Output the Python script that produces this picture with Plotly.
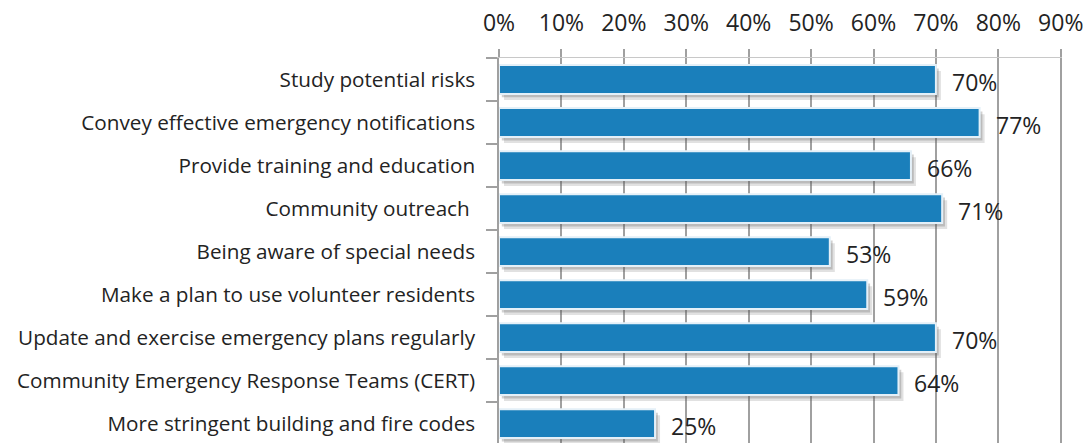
import plotly.graph_objects as go

categories = [
    "Study potential risks",
    "Convey effective emergency notifications",
    "Provide training and education",
    "Community outreach ",
    "Being aware of special needs",
    "Make a plan to use volunteer residents",
    "Update and exercise emergency plans regularly",
    "Community Emergency Response Teams (CERT)",
    "More stringent building and fire codes",
]
values = [70, 77, 66, 71, 53, 59, 70, 64, 25]
x_ticks = [0, 10, 20, 30, 40, 50, 60, 70, 80, 90]

bar_color = "rgb(26,127,187)"
grid_color = "rgb(160,160,160)"
text_color = "rgb(35,35,35)"
font_family = "'Open Sans', sans-serif"
bar_width = 0.67

fig = go.Figure()

# soft drop shadow under each bar (two layers for a blurred edge)
for base, grow, alpha in [(0.8, 0.14, 0.18), (0.45, 0.08, 0.28)]:
    fig.add_trace(go.Bar(
        y=categories, x=values, orientation="h",
        base=base, width=bar_width, offset=-bar_width / 2 + grow,
        marker=dict(color=f"rgba(90,90,90,{alpha})", line=dict(width=0)),
        hoverinfo="skip", showlegend=False,
    ))

# main bars
fig.add_trace(go.Bar(
    y=categories, x=values, orientation="h",
    width=bar_width,
    marker=dict(color=bar_color, line=dict(color="rgb(228,240,248)", width=2)),
    showlegend=False,
))

# value labels
for cat, v in zip(categories, values):
    fig.add_annotation(
        x=v, y=cat, text=f"{v}%", showarrow=False,
        xanchor="left", yanchor="middle", xshift=14, yshift=-2,
        font=dict(size=23, color=text_color, family=font_family),
    )

fig.update_layout(
    width=1090, height=443,
    margin=dict(l=499, r=28, t=58, b=0),
    paper_bgcolor="white", plot_bgcolor="white",
    barmode="overlay",
    font=dict(family=font_family, color=text_color),
    xaxis=dict(
        side="top", range=[0, 90.2], tickvals=x_ticks,
        ticktext=[f"{t}%" for t in x_ticks],
        showgrid=True, gridcolor=grid_color, gridwidth=1.5,
        ticks="outside", ticklen=8, tickcolor=grid_color, tickwidth=1.5,
        tickfont=dict(size=23, color=text_color),
        ticklabelstandoff=9,
        showline=True, linecolor="rgb(200,200,200)", linewidth=1.2,
        zeroline=False, fixedrange=True,
    ),
    yaxis=dict(
        autorange=False, range=[8.45, -0.5],
        showgrid=False, showline=True, linecolor=grid_color, linewidth=1.5,
        ticks="outside", tickson="boundaries", ticklen=11,
        tickcolor=grid_color, tickwidth=1.5,
        tickfont=dict(size=20.7, color=text_color),
        ticklabelstandoff=18,
        zeroline=False, fixedrange=True,
    ),
)

fig.write_html("out.html")
